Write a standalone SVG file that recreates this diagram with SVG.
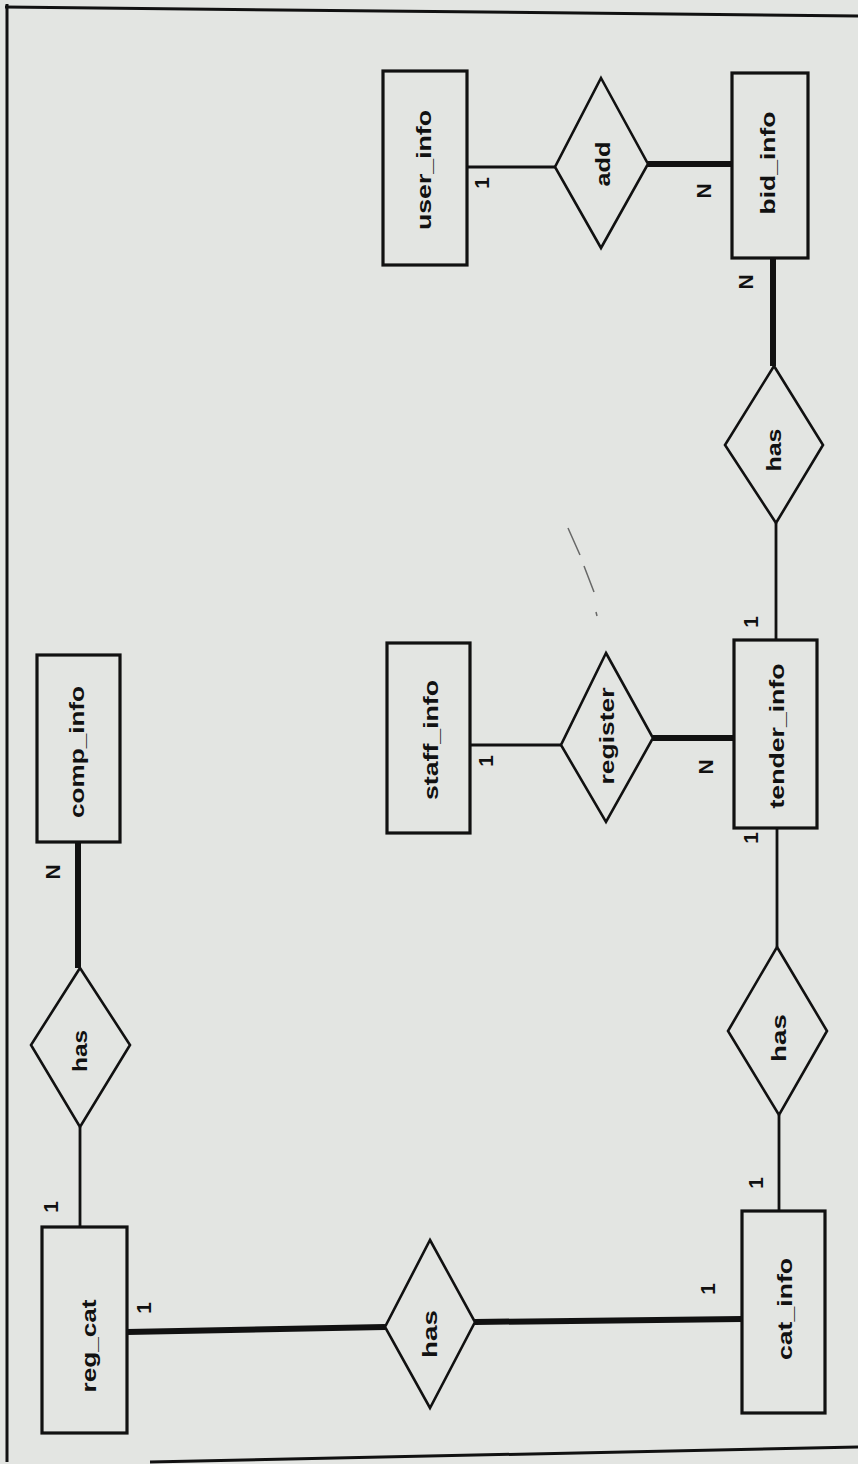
<svg xmlns="http://www.w3.org/2000/svg" width="858" height="1464" viewBox="0 0 858 1464">
<style>
.ent{fill:none;stroke:#111;stroke-width:3.2}
.rel{fill:none;stroke:#111;stroke-width:2.6;stroke-linejoin:miter}
.thin{stroke:#111;stroke-width:2.8;fill:none}
.thick{stroke:#111;stroke-width:6;fill:none}
.lbl{font-family:"Liberation Sans",Arial,sans-serif;font-weight:bold;font-size:21px;fill:#111;text-anchor:middle;dominant-baseline:central}
.card{font-family:"Liberation Sans",Arial,sans-serif;font-weight:bold;font-size:21px;fill:#111;text-anchor:middle;dominant-baseline:central}
</style>
<rect x="0" y="0" width="858" height="1464" fill="#e3e5e2"/>
<g id="frame">
<path d="M7 4 L7 1462" stroke="#111" stroke-width="3" fill="none"/>
<path d="M5 7 L858 16" stroke="#111" stroke-width="3" fill="none"/>
<path d="M150 1462 L858 1447" stroke="#111" stroke-width="3" fill="none"/>
<path d="M568 528 L580 555 M584 566 L594 592 M596 612 L597 616" stroke="#333" stroke-width="1.5" fill="none" opacity="0.7"/>
</g>
<g id="connectors">
<line class="thin" x1="467" y1="167" x2="556" y2="167"/>
<line class="thick" x1="648" y1="164" x2="732" y2="164"/>
<line class="thick" x1="773" y1="258" x2="773" y2="366"/>
<line class="thin" x1="776" y1="523" x2="776" y2="640"/>
<line class="thin" x1="470" y1="745" x2="561" y2="745"/>
<line class="thick" x1="653" y1="738" x2="734" y2="738"/>
<line class="thin" x1="777" y1="828" x2="777" y2="947"/>
<line class="thin" x1="779" y1="1115" x2="779" y2="1211"/>
<line class="thick" x1="127" y1="1332" x2="385" y2="1327"/>
<line class="thick" x1="475" y1="1322" x2="742" y2="1319"/>
<line class="thin" x1="80" y1="1127" x2="80" y2="1227"/>
<line class="thick" x1="78" y1="842" x2="78" y2="968"/>
<text class="card" transform="translate(481,183) rotate(-90)">1</text>
<text class="card" transform="translate(703,191) rotate(-90)">N</text>
<text class="card" transform="translate(745,282) rotate(-90)">N</text>
<text class="card" transform="translate(750,622) rotate(-90)">1</text>
<text class="card" transform="translate(485,761) rotate(-90)">1</text>
<text class="card" transform="translate(705,767) rotate(-90)">N</text>
<text class="card" transform="translate(750,838) rotate(-90)">1</text>
<text class="card" transform="translate(755,1183) rotate(-90)">1</text>
<text class="card" transform="translate(707,1289) rotate(-90)">1</text>
<text class="card" transform="translate(50,1207) rotate(-90)">1</text>
<text class="card" transform="translate(143,1308) rotate(-90)">1</text>
<text class="card" transform="translate(52,872) rotate(-90)">N</text>
</g>
<g id="user_info">
<rect class="ent" x="383" y="71" width="84" height="194"/>
<text class="lbl" transform="translate(423,170) rotate(-90)" textLength="120" lengthAdjust="spacingAndGlyphs">user_info</text>
</g>
<g id="add">
<polygon class="rel" points="601,78 648,164 601,248 555,167"/>
<text class="lbl" transform="translate(602,164) rotate(-90)" textLength="45" lengthAdjust="spacingAndGlyphs">add</text>
</g>
<g id="bid_info">
<rect class="ent" x="732" y="73" width="76" height="185"/>
<text class="lbl" transform="translate(767,163) rotate(-90)" textLength="103" lengthAdjust="spacingAndGlyphs">bid_info</text>
</g>
<g id="has_bid">
<polygon class="rel" points="774,366 823,445 776,523 725,445"/>
<text class="lbl" transform="translate(773,450) rotate(-90)" textLength="43" lengthAdjust="spacingAndGlyphs">has</text>
</g>
<g id="staff_info">
<rect class="ent" x="387" y="643" width="83" height="190"/>
<text class="lbl" transform="translate(430,740) rotate(-90)" textLength="120" lengthAdjust="spacingAndGlyphs">staff_info</text>
</g>
<g id="register">
<polygon class="rel" points="606,653 653,738 606,822 561,745"/>
<text class="lbl" transform="translate(606,736) rotate(-90)" textLength="97" lengthAdjust="spacingAndGlyphs">register</text>
</g>
<g id="tender_info">
<rect class="ent" x="734" y="640" width="83" height="188"/>
<text class="lbl" transform="translate(776,736) rotate(-90)" textLength="145" lengthAdjust="spacingAndGlyphs">tender_info</text>
</g>
<g id="has_tender">
<polygon class="rel" points="777,947 827,1031 779,1115 728,1031"/>
<text class="lbl" transform="translate(778,1038) rotate(-90)" textLength="48" lengthAdjust="spacingAndGlyphs">has</text>
</g>
<g id="cat_info">
<rect class="ent" x="742" y="1211" width="83" height="202"/>
<text class="lbl" transform="translate(784,1309) rotate(-90)" textLength="102" lengthAdjust="spacingAndGlyphs">cat_info</text>
</g>
<g id="has_cat">
<polygon class="rel" points="430,1240 475,1322 430,1408 385,1327"/>
<text class="lbl" transform="translate(429,1334) rotate(-90)" textLength="48" lengthAdjust="spacingAndGlyphs">has</text>
</g>
<g id="reg_cat">
<rect class="ent" x="42" y="1227" width="85" height="206"/>
<text class="lbl" transform="translate(88,1346) rotate(-90)" textLength="93" lengthAdjust="spacingAndGlyphs">reg_cat</text>
</g>
<g id="has_comp">
<polygon class="rel" points="80,968 130,1045 80,1127 31,1045"/>
<text class="lbl" transform="translate(79,1051) rotate(-90)" textLength="42" lengthAdjust="spacingAndGlyphs">has</text>
</g>
<g id="comp_info">
<rect class="ent" x="37" y="655" width="83" height="187"/>
<text class="lbl" transform="translate(76,752) rotate(-90)" textLength="132" lengthAdjust="spacingAndGlyphs">comp_info</text>
</g>
</svg>
